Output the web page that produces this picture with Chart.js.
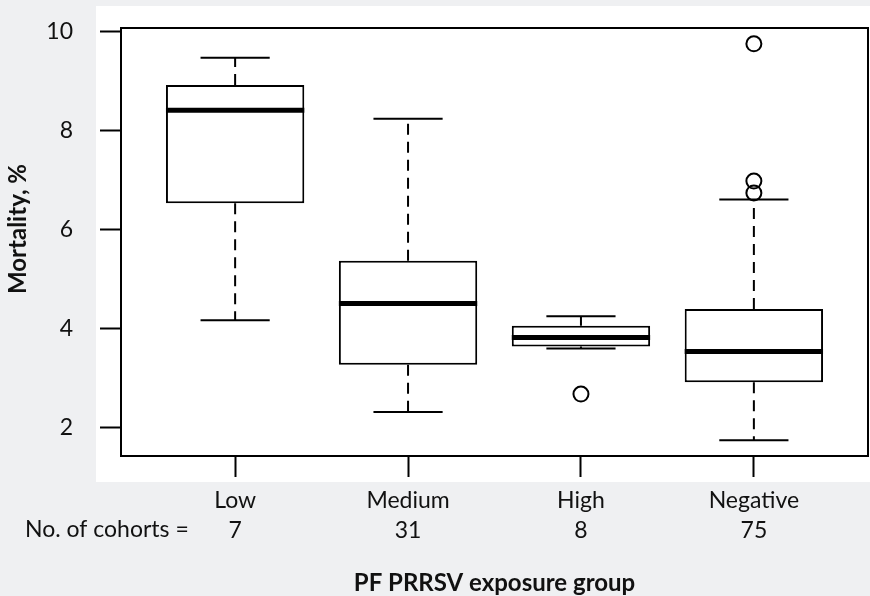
<!DOCTYPE html>
<html>
<head>
<meta charset="utf-8">
<script src="https://cdn.jsdelivr.net/npm/chart.js@4.4.1/dist/chart.umd.min.js"></script>
<style>
  html, body { margin: 0; padding: 0; background: #eff0f2; }
  #chart { display: block; }
</style>
</head>
<body>
<canvas id="chart" width="870" height="596"></canvas>
<script>
// ==================== DATA ====================
const groups = ['Low', 'Medium', 'High', 'Negative'];
const cohorts = ['7', '31', '8', '75'];
const whiskerLow = [4.17, 2.32, 3.60, 1.75];
const q1 = [6.53, 3.27, 3.64, 2.92];
const median = [8.41, 4.51, 3.82, 3.54];
const q3 = [8.92, 5.37, 4.06, 4.40];
const whiskerHigh = [9.47, 8.24, 4.25, 6.61];
const outlierGroup = [3, 4, 4, 4];
const outlierValues = [2.68, 9.75, 6.98, 6.74];
const yTicks = [2, 4, 6, 8, 10];

const FONT = 'Lato, "DejaVu Sans", sans-serif';

// ==================== PLUGINS ====================
// white panel behind the plot (like the figure's inner background)
const panelPlugin = {
    id: 'panel',
    beforeDraw(chart) {
        const ctx = chart.ctx;
        ctx.save();
        ctx.fillStyle = '#eff0f2';
        ctx.fillRect(0, 0, chart.width, chart.height);
        ctx.fillStyle = '#ffffff';
        ctx.fillRect(96, 6, chart.width - 96, 476);
        ctx.restore();
    }
};

// whiskers, caps, medians, frame and extra texts
const boxPlugin = {
    id: 'boxExtras',
    beforeDatasetsDraw(chart) {
        const { ctx, scales: { x, y } } = chart;
        ctx.save();
        ctx.strokeStyle = '#000';
        ctx.lineWidth = 2;
        groups.forEach((g, i) => {
            const cx = x.getPixelForValue(i + 1);
            // dashed whiskers
            ctx.setLineDash([11, 7]);
            ctx.beginPath();
            ctx.moveTo(cx, y.getPixelForValue(q3[i]));
            ctx.lineTo(cx, y.getPixelForValue(whiskerHigh[i]));
            ctx.moveTo(cx, y.getPixelForValue(q1[i]));
            ctx.lineTo(cx, y.getPixelForValue(whiskerLow[i]));
            ctx.stroke();
            // caps
            ctx.setLineDash([]);
            const l = x.getPixelForValue(i + 1 - 0.2);
            const r = x.getPixelForValue(i + 1 + 0.2);
            ctx.beginPath();
            ctx.moveTo(l, y.getPixelForValue(whiskerHigh[i]));
            ctx.lineTo(r, y.getPixelForValue(whiskerHigh[i]));
            ctx.moveTo(l, y.getPixelForValue(whiskerLow[i]));
            ctx.lineTo(r, y.getPixelForValue(whiskerLow[i]));
            ctx.stroke();
        });
        ctx.restore();
    },
    afterDatasetsDraw(chart) {
        const { ctx, chartArea, scales: { x, y } } = chart;
        ctx.save();
        // medians
        ctx.strokeStyle = '#000';
        ctx.lineWidth = 5;
        groups.forEach((g, i) => {
            const py = y.getPixelForValue(median[i]);
            ctx.beginPath();
            ctx.moveTo(x.getPixelForValue(i + 1 - 0.4), py);
            ctx.lineTo(x.getPixelForValue(i + 1 + 0.4), py);
            ctx.stroke();
        });
        // frame
        ctx.lineWidth = 2;
        ctx.strokeRect(chartArea.left, chartArea.top, chartArea.right - chartArea.left, chartArea.bottom - chartArea.top);
        ctx.restore();
    },
    afterDraw(chart) {
        const { ctx, chartArea } = chart;
        ctx.save();
        ctx.fillStyle = '#111';
        ctx.textBaseline = 'middle';
        ctx.font = '23px ' + FONT;
        ctx.textAlign = 'left';
        ctx.fillText('No. of cohorts =', 25, 530);
        // axis titles
        ctx.font = 'bold 24px ' + FONT;
        ctx.textAlign = 'center';
        ctx.fillText('PF PRRSV exposure group', (chartArea.left + chartArea.right) / 2, 583);
        ctx.translate(18, 229);
        ctx.rotate(-Math.PI / 2);
        ctx.fillText('Mortality, %', 0, 0);
        ctx.restore();
    }
};

// ==================== CHART ====================
new Chart(document.getElementById('chart').getContext('2d'), {
    type: 'bar',
    data: {
        datasets: [{
            label: 'IQR',
            data: groups.map((g, i) => ({ x: i + 1, y: [q1[i], q3[i]] })),
            backgroundColor: '#ffffff',
            borderColor: '#000000',
            borderWidth: 2,
            borderSkipped: false,
            barPercentage: 1,
            categoryPercentage: 0.8
        }, {
            type: 'scatter',
            label: 'Outliers',
            data: outlierValues.map((v, i) => ({ x: outlierGroup[i], y: v })),
            pointStyle: 'circle',
            pointRadius: 7.5,
            pointBorderWidth: 2,
            pointBackgroundColor: 'rgba(255,255,255,0)',
            pointBorderColor: '#000000'
        }]
    },
    options: {
        responsive: false,
        animation: false,
        layout: { autoPadding: false, padding: { top: 28, right: 2, left: 0, bottom: 0 } },
        plugins: {
            legend: { display: false },
            tooltip: { enabled: false }
        },
        scales: {
            x: {
                type: 'linear',
                offset: false,
                min: 0.34,
                max: 4.66,
                afterBuildTicks: s => { s.ticks = groups.map((g, i) => ({ value: i + 1 })); },
                afterFit: s => { s.height = 140; s.paddingLeft = 0; s.paddingRight = 0; },
                ticks: {
                    autoSkip: false,
                    maxRotation: 0,
                    padding: 9,
                    color: '#111',
                    font: { family: FONT, size: 23, lineHeight: 1.3 },
                    callback: (v) => [groups[v - 1], cohorts[v - 1]]
                },
                grid: { offset: false, drawOnChartArea: false, drawTicks: true, tickLength: 21, tickWidth: 2, tickColor: '#000' },
                border: { display: false }
            },
            y: {
                type: 'linear',
                min: 1.43,
                max: 10.07,
                afterBuildTicks: s => { s.ticks = yTicks.map(v => ({ value: v })); },
                afterFit: s => { s.width = 121; s.paddingTop = 0; s.paddingBottom = 0; },
                ticks: {
                    padding: 27,
                    color: '#111',
                    font: { family: FONT, size: 23 }
                },
                grid: { drawOnChartArea: false, drawTicks: true, tickLength: 21, tickWidth: 2, tickColor: '#000' },
                border: { display: false }
            }
        }
    },
    plugins: [panelPlugin, boxPlugin]
});
</script>
</body>
</html>
